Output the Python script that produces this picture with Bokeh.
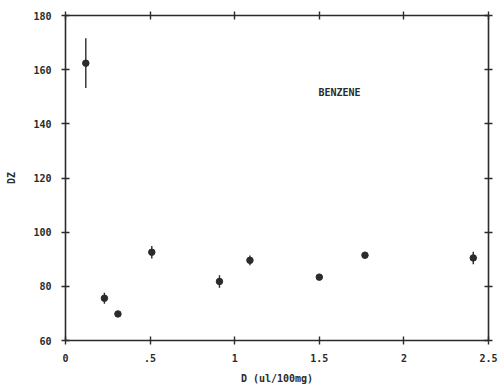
from bokeh.plotting import figure
from bokeh.models import Range1d, LinearAxis, FixedTicker
from bokeh.core.properties import value
from bokeh.embed import file_html
from bokeh.resources import INLINE

# Data
dose = [0.12, 0.23, 0.31, 0.51, 0.91, 1.09, 1.50, 1.77, 2.41]
dz = [162.4, 75.6, 69.8, 92.6, 81.8, 89.6, 83.4, 91.5, 90.5]
err = [9.2, 2.0, 0.8, 2.3, 2.3, 1.8, 0.6, 0.6, 2.3]

x_ticks = [0, 0.5, 1, 1.5, 2, 2.5]
x_tick_labels = ["0", ".5", "1", "1.5", "2", "2.5"]
y_ticks = [60, 80, 100, 120, 140, 160, 180]

FONT = "DejaVu Sans Mono"
INK = "#2b2b2b"

p = figure(width=499, height=386, output_backend="svg", toolbar_location=None,
           x_range=Range1d(0, 2.5), y_range=Range1d(60, 180),
           x_axis_location=None, y_axis_location=None,
           min_border_left=65, min_border_right=11, min_border_top=15, min_border_bottom=46)
p.outline_line_color = None
p.xgrid.visible = False
p.ygrid.visible = False
p.background_fill_color = "white"


def style(ax):
    ax.axis_line_color = INK
    ax.axis_line_width = 1.6
    ax.major_tick_line_color = INK
    ax.major_tick_line_width = 1.4
    ax.major_tick_in = 4
    ax.major_tick_out = 4
    ax.minor_tick_line_color = None
    ax.major_label_text_font = FONT
    ax.major_label_text_font_size = "10px"
    ax.major_label_text_font_style = "bold"
    ax.major_label_text_color = INK
    ax.axis_label_text_font = FONT
    ax.axis_label_text_font_size = "10px"
    ax.axis_label_text_font_style = "bold"
    ax.axis_label_text_color = INK


bottom = LinearAxis(ticker=FixedTicker(ticks=x_ticks), axis_label="D (ul/100mg)")
bottom.major_label_overrides = {t: l for t, l in zip(x_ticks, x_tick_labels)}
style(bottom)
bottom.major_label_standoff = 9
bottom.axis_label_standoff = 8
p.add_layout(bottom, "below")

left = LinearAxis(ticker=FixedTicker(ticks=y_ticks), axis_label="DZ")
style(left)
left.major_label_standoff = 10
left.axis_label_standoff = 13
p.add_layout(left, "left")

top = LinearAxis(ticker=FixedTicker(ticks=x_ticks))
style(top)
top.major_label_text_color = None
top.major_label_overrides = {t: "" for t in x_ticks}
top.major_label_standoff = 0
p.add_layout(top, "above")

right = LinearAxis(ticker=FixedTicker(ticks=y_ticks))
style(right)
right.major_label_text_color = None
right.major_label_overrides = {t: "" for t in y_ticks}
right.major_label_standoff = 0
p.add_layout(right, "right")

lo = [v - e for v, e in zip(dz, err)]
hi = [v + e for v, e in zip(dz, err)]
p.segment(x0=dose, y0=lo, x1=dose, y1=hi, line_color=INK, line_width=1.4)
p.scatter(x=dose, y=dz, size=6.5, fill_color=INK, line_color=INK)

p.text(x=[1.495], y=[151.6], text=["BENZENE"], text_font=value(FONT),
       text_font_size="10px", text_font_style="bold", text_color=INK,
       text_baseline="middle", text_align="left")

open("out.html", "w").write(file_html(p, INLINE))
